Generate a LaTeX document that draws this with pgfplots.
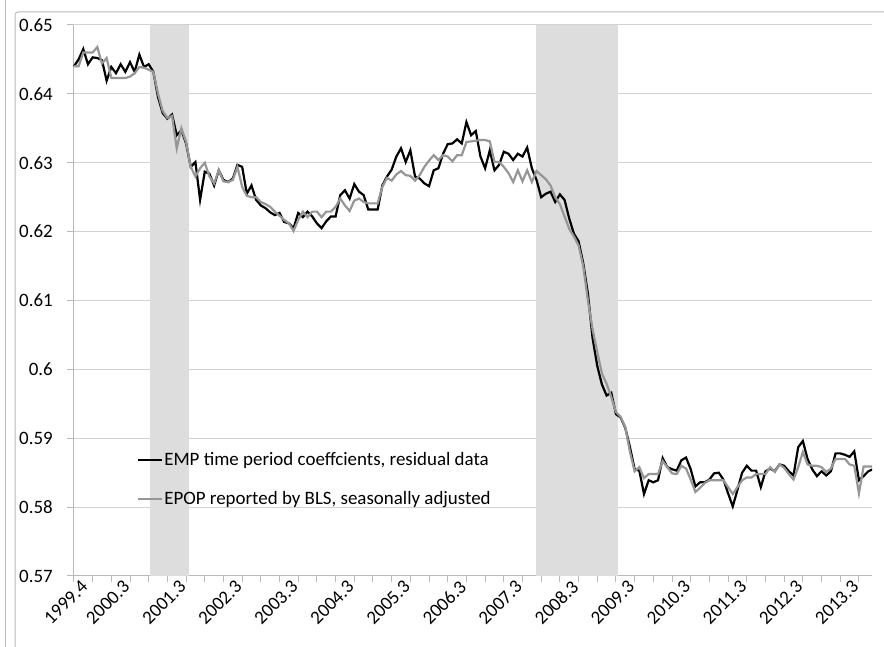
\documentclass[border=0pt]{standalone}
\usepackage{pgfplots}
\pgfplotsset{compat=1.18}
\usepackage{pgfplotstable}
\usepackage{fontspec}
\setmainfont{Carlito}
\definecolor{gridc}{RGB}{210,210,210}
\definecolor{axc}{RGB}{185,185,185}
\definecolor{shadec}{RGB}{221,221,221}
\definecolor{seriesgray}{RGB}{150,150,150}

\pgfplotstableread{
i v
0 0.6440
1 0.6450
2 0.6465
3 0.6443
4 0.6453
5 0.6452
6 0.6449
7 0.6419
8 0.6439
9 0.6430
10 0.6443
11 0.6432
12 0.6446
13 0.6432
14 0.6457
15 0.6439
16 0.6443
17 0.6432
18 0.6395
19 0.6372
20 0.6364
21 0.6370
22 0.6340
23 0.6347
24 0.6328
25 0.6294
26 0.6301
27 0.6246
28 0.6287
29 0.6284
30 0.6267
31 0.6289
32 0.6275
33 0.6272
34 0.6277
35 0.6297
36 0.6294
37 0.6255
38 0.6267
39 0.6246
40 0.6238
41 0.6234
42 0.6228
43 0.6224
44 0.6227
45 0.6214
46 0.6212
47 0.6205
48 0.6227
49 0.6221
50 0.6229
51 0.6222
52 0.6212
53 0.6205
54 0.6215
55 0.6222
56 0.6222
57 0.6253
58 0.6260
59 0.6248
60 0.6269
61 0.6258
62 0.6253
63 0.6232
64 0.6232
65 0.6232
66 0.6267
67 0.6280
68 0.6290
69 0.6309
70 0.6321
71 0.6301
72 0.6318
73 0.6280
74 0.6277
75 0.6270
76 0.6266
77 0.6289
78 0.6292
79 0.6313
80 0.6327
81 0.6328
82 0.6334
83 0.6328
84 0.6359
85 0.6340
86 0.6346
87 0.6309
88 0.6292
89 0.6318
90 0.6289
91 0.6297
92 0.6316
93 0.6313
94 0.6304
95 0.6313
96 0.6309
97 0.6322
98 0.6292
99 0.6275
100 0.6250
101 0.6255
102 0.6258
103 0.6243
104 0.6254
105 0.6246
106 0.6219
107 0.6197
108 0.6186
109 0.6154
110 0.6110
111 0.6045
112 0.6005
113 0.5978
114 0.5962
115 0.5966
116 0.5935
117 0.5930
118 0.5915
119 0.5887
120 0.5855
121 0.5853
122 0.5819
123 0.5839
124 0.5836
125 0.5839
126 0.5871
127 0.5858
128 0.5855
129 0.5853
130 0.5868
131 0.5872
132 0.5855
133 0.5830
134 0.5836
135 0.5836
136 0.5840
137 0.5849
138 0.5850
139 0.5840
140 0.5820
141 0.5801
142 0.5825
143 0.5850
144 0.5860
145 0.5853
146 0.5853
147 0.5829
148 0.5852
149 0.5856
150 0.5852
151 0.5862
152 0.5860
153 0.5852
154 0.5846
155 0.5887
156 0.5896
157 0.5870
158 0.5855
159 0.5845
160 0.5852
161 0.5846
162 0.5852
163 0.5878
164 0.5878
165 0.5876
166 0.5873
167 0.5881
168 0.5839
169 0.5845
170 0.5852
171 0.5855
}\emp

\pgfplotstableread{
i v
0 0.6440
1 0.6440
2 0.6460
3 0.6460
4 0.6460
5 0.6468
6 0.6444
7 0.6452
8 0.6423
9 0.6423
10 0.6423
11 0.6423
12 0.6425
13 0.6430
14 0.6439
15 0.6438
16 0.6435
17 0.6432
18 0.6400
19 0.6375
20 0.6365
21 0.6368
22 0.6321
23 0.6350
24 0.6330
25 0.6294
26 0.6280
27 0.6292
28 0.6300
29 0.6280
30 0.6270
31 0.6289
32 0.6273
33 0.6272
34 0.6275
35 0.6294
36 0.6265
37 0.6252
38 0.6250
39 0.6250
40 0.6243
41 0.6240
42 0.6236
43 0.6229
44 0.6223
45 0.6217
46 0.6212
47 0.6201
48 0.6217
49 0.6229
50 0.6221
51 0.6229
52 0.6229
53 0.6221
54 0.6229
55 0.6229
56 0.6236
57 0.6248
58 0.6238
59 0.6230
60 0.6245
61 0.6248
62 0.6243
63 0.6241
64 0.6241
65 0.6241
66 0.6265
67 0.6278
68 0.6274
69 0.6283
70 0.6288
71 0.6282
72 0.6281
73 0.6274
74 0.6282
75 0.6294
76 0.6303
77 0.6311
78 0.6304
79 0.6311
80 0.6309
81 0.6302
82 0.6311
83 0.6311
84 0.6330
85 0.6331
86 0.6332
87 0.6333
88 0.6333
89 0.6331
90 0.6301
91 0.6301
92 0.6294
93 0.6285
94 0.6272
95 0.6289
96 0.6273
97 0.6289
98 0.6272
99 0.6288
100 0.6282
101 0.6276
102 0.6267
103 0.6250
104 0.6240
105 0.6222
106 0.6204
107 0.6193
108 0.6180
109 0.6150
110 0.6100
111 0.6058
112 0.6025
113 0.5994
114 0.5979
115 0.5960
116 0.5938
117 0.5931
118 0.5916
119 0.5880
120 0.5852
121 0.5858
122 0.5842
123 0.5848
124 0.5848
125 0.5848
126 0.5867
127 0.5858
128 0.5849
129 0.5848
130 0.5860
131 0.5856
132 0.5840
133 0.5822
134 0.5828
135 0.5835
136 0.5839
137 0.5839
138 0.5839
139 0.5839
140 0.5829
141 0.5819
142 0.5829
143 0.5839
144 0.5843
145 0.5843
146 0.5848
147 0.5848
148 0.5848
149 0.5858
150 0.5851
151 0.5862
152 0.5857
153 0.5848
154 0.5840
155 0.5858
156 0.5880
157 0.5862
158 0.5860
159 0.5860
160 0.5858
161 0.5851
162 0.5856
163 0.5870
164 0.5870
165 0.5870
166 0.5862
167 0.5860
168 0.5820
169 0.5859
170 0.5859
171 0.5859
}\epop

\begin{document}
\begin{tikzpicture}[x=1bp,y=1bp]
\useasboundingbox (0,0) rectangle (884,647);
\draw[axc, line width=1bp] (5,0) -- (5,647);
\draw[axc, line width=1bp, rounded corners=3bp] (15,-10) -- (15,635) -- (900,635);
\begin{axis}[
  at={(73bp,71bp)}, anchor=south west, scale only axis,
  width=799bp, height=551bp,
  xmin=-0.2, xmax=170.8, ymin=0.57, ymax=0.65,
  axis lines*=left,
  axis line style={axc, line width=1bp},
  ymajorgrids, grid style={gridc, line width=1bp},
  font=\fontsize{19}{22}\selectfont,
  ytick={0.57,0.58,0.59,0.60,0.61,0.62,0.63,0.64,0.65},
  yticklabels={0.57,0.58,0.59,0.6,0.61,0.62,0.63,0.64,0.65},
  yticklabel style={anchor=east, inner sep=0pt, xshift=-14bp},
  xtick={0,4,...,168},
  xticklabels={},
  extra x ticks={0,9,21,33,45,57,69,81,93,105,117,129,141,153,165},
  extra x tick labels={1999.4,2000.3,2001.3,2002.3,2003.3,2004.3,2005.3,2006.3,2007.3,2008.3,2009.3,2010.3,2011.3,2012.3,2013.3},
  extra x tick style={major tick length=0pt, xticklabel style={rotate=45, anchor=east, inner sep=0pt, xshift=2bp, yshift=-13bp}},
  tick align=outside,
  major tick length=6bp,
  tick style={axc, line width=1bp},
  legend style={at={(0.080,0.226)}, anchor=north west, draw=none, fill=none, inner sep=0pt, row sep=22bp, font=\fontsize{19}{22}\selectfont, nodes={inner sep=1bp}},
  legend cell align=left,
  legend image code/.code={\draw[#1] (0bp,0bp) -- (24bp,0bp);},
]
\addplot[fill=shadec, draw=none, forget plot] coordinates {(16.3,0.57) (16.3,0.65) (24.6,0.65) (24.6,0.57)} -- cycle;
\addplot[fill=shadec, draw=none, forget plot] coordinates {(98.9,0.57) (98.9,0.65) (116.4,0.65) (116.4,0.57)} -- cycle;
\addplot[black, line width=2.2bp] table[x=i, y=v] {\emp};
\addlegendentry{EMP time period coeffcients, residual data}
\addplot[seriesgray, line width=2.2bp] table[x=i, y=v] {\epop};
\addlegendentry{EPOP reported by BLS, seasonally adjusted}
\end{axis}
\end{tikzpicture}
\end{document}
